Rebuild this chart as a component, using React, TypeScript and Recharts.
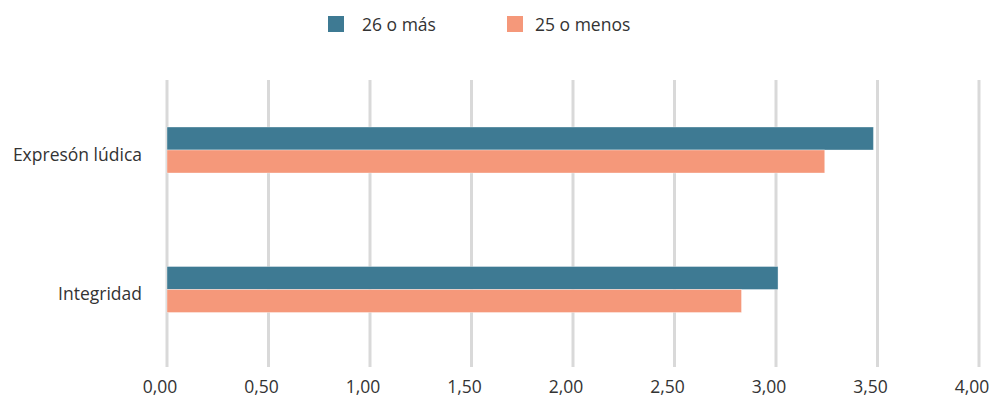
import React from "react";
import { BarChart, Bar, XAxis, YAxis, CartesianGrid } from "recharts";

const categories = ["Expresón lúdica", "Integridad"];
const seriesNames = ["26 o más", "25 o menos"];
const mayores = [3.48, 3.01];
const menores = [3.24, 2.83];
const xTicks = [0, 0.5, 1, 1.5, 2, 2.5, 3, 3.5, 4];

const colors = ["#3E7A93", "#F5987A"];
const FONT = "'Open Sans', sans-serif";
const FS = 17.5;

const data = categories.map((c, i) => ({ name: c, a: mayores[i], b: menores[i] }));

const fmt = (v: number) => v.toFixed(2).replace(".", ",");

export default function App() {
  return (
    <div style={{ position: "absolute", left: 0, top: 0, width: 992, height: 406, background: "#fff", fontFamily: FONT }}>
      <div style={{ position: "absolute", left: 328, top: 16, width: 16, height: 16, background: colors[0] }} />
      <div style={{ position: "absolute", left: 362, top: 12, fontSize: FS, lineHeight: "24px", color: "#333" }}>{seriesNames[0]}</div>
      <div style={{ position: "absolute", left: 507, top: 16, width: 16, height: 16, background: colors[1] }} />
      <div style={{ position: "absolute", left: 535, top: 12, fontSize: FS, lineHeight: "24px", color: "#333" }}>{seriesNames[1]}</div>
      <BarChart
        width={992}
        height={406}
        data={data}
        layout="vertical"
        margin={{ top: 80, right: 13, bottom: 0, left: 0 }}
        barGap={0}
        barSize={23}
      >
        <CartesianGrid horizontal={false} vertical={true} stroke="#d9d9d9" strokeWidth={3} />
        <XAxis
          type="number"
          domain={[0, 4]}
          ticks={xTicks}
          tickFormatter={fmt}
          axisLine={false}
          tickLine={{ stroke: "#d9d9d9", strokeWidth: 3 }}
          tickSize={8}
          tickMargin={14}
          height={47}
          tick={{ fill: "#333", fontSize: FS, fontFamily: FONT, dx: -7 }}
          interval={0}
        />
        <YAxis
          type="category"
          dataKey="name"
          width={167}
          axisLine={false}
          tickLine={false}
          tickMargin={19}
          tick={{ fill: "#333", fontSize: FS, fontFamily: FONT, dy: 5 }}
        />
        <Bar dataKey="a" name={seriesNames[0]} fill={colors[0]} stroke="rgba(255,255,255,0.35)" strokeWidth={1} isAnimationActive={false} />
        <Bar dataKey="b" name={seriesNames[1]} fill={colors[1]} stroke="rgba(255,255,255,0.35)" strokeWidth={1} isAnimationActive={false} />
      </BarChart>
    </div>
  );
}
